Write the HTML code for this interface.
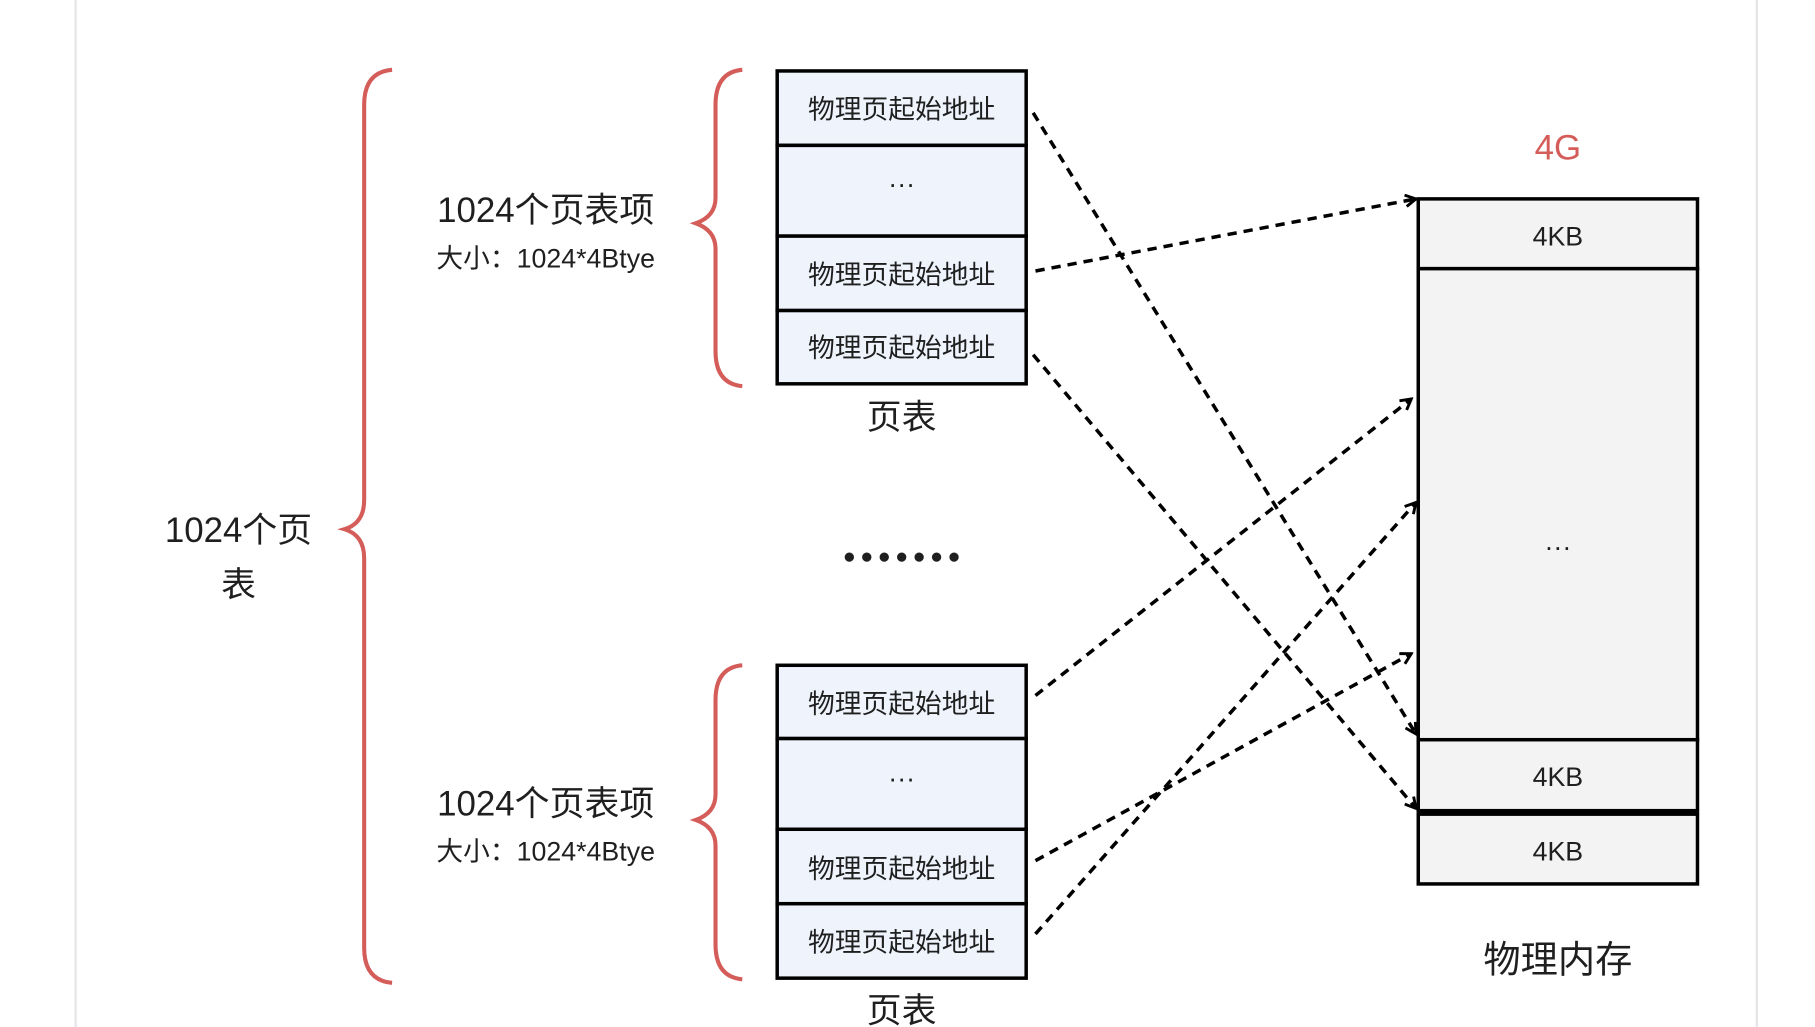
<!DOCTYPE html>
<html><head><meta charset="utf-8"><style>
html,body{margin:0;padding:0;background:#fff;width:1815px;height:1027px;overflow:hidden}
svg{display:block}
text{font-family:"Liberation Sans","Noto Sans CJK SC",sans-serif;fill:#1f1f1f}
</style></head><body>
<svg width="1815" height="1027" viewBox="0 0 1560 883" preserveAspectRatio="none" xmlns="http://www.w3.org/2000/svg">
<defs>
<marker id="a" markerWidth="12" markerHeight="12" refX="10" refY="6" orient="auto" markerUnits="userSpaceOnUse">
<path d="M1,1 L10,6 L1,11" fill="none" stroke="#000" stroke-width="2.5"/>
</marker>
</defs>
<rect x="65" y="-20" width="1445" height="930" rx="18" fill="#fff" stroke="#e6e6e9" stroke-width="2"/>
<g fill="none" stroke="#d45d5a" stroke-width="3.5">
<path d="M337,60 Q313,62 313,90 L313,430 Q313,450 296,455 Q313,460 313,480 L313,815 Q313,843 337,845"/>
<path d="M638,60 Q615,62 615,90 L615,170 Q615,186 598,192 Q615,198 615,214 L615,302 Q615,330 638,332"/>
<path d="M638,572 Q615,574 615,602 L615,683 Q615,699 598,705 Q615,711 615,727 L615,812 Q615,840 638,842"/>
</g>
<text x="205" y="466" font-size="30" text-anchor="middle">1024个页</text>
<text x="205" y="513" font-size="30" text-anchor="middle">表</text>
<text x="469" y="191" font-size="30" text-anchor="middle">1024个页表项</text>
<text x="469" y="230" font-size="23" text-anchor="middle">大小：1024*4Btye</text>
<text x="469" y="701" font-size="30" text-anchor="middle">1024个页表项</text>
<text x="469" y="740" font-size="23" text-anchor="middle">大小：1024*4Btye</text>
<g stroke="#000" stroke-width="3" fill="#eef3fc">
<rect x="668" y="61" width="214" height="64"/><rect x="668" y="125" width="214" height="78"/><rect x="668" y="203" width="214" height="64"/><rect x="668" y="267" width="214" height="63"/>
<rect x="668" y="572" width="214" height="63"/><rect x="668" y="635" width="214" height="78"/><rect x="668" y="713" width="214" height="64"/><rect x="668" y="777" width="214" height="64"/>
</g>
<g font-size="23" text-anchor="middle">
<text x="775" y="102">物理页起始地址</text><text x="775" y="166">···</text><text x="775" y="244">物理页起始地址</text><text x="775" y="307">物理页起始地址</text>
<text x="775" y="613">物理页起始地址</text><text x="775" y="677">···</text><text x="775" y="755">物理页起始地址</text><text x="775" y="818">物理页起始地址</text>
</g>
<text x="775" y="369" font-size="30" text-anchor="middle">页表</text>
<text x="775" y="879" font-size="30" text-anchor="middle">页表</text>
<g fill="#1f1f1f"><circle cx="730" cy="479" r="4"/><circle cx="745" cy="479" r="4"/><circle cx="760" cy="479" r="4"/><circle cx="775" cy="479" r="4"/><circle cx="790" cy="479" r="4"/><circle cx="805" cy="479" r="4"/><circle cx="820" cy="479" r="4"/></g>
<g stroke="#000" stroke-width="3" fill="#f3f3f3">
<rect x="1219" y="171" width="240" height="60"/><rect x="1219" y="231" width="240" height="405"/><rect x="1219" y="636" width="240" height="61"/><rect x="1219" y="700" width="240" height="60"/>
</g>
<line x1="1219" y1="698.5" x2="1459" y2="698.5" stroke="#000" stroke-width="3"/>
<g font-size="23" text-anchor="middle">
<text x="1339" y="211">4KB</text><text x="1339" y="478">···</text><text x="1339" y="676">4KB</text><text x="1339" y="740">4KB</text>
</g>
<text x="1339" y="137" font-size="30" text-anchor="middle" style="fill:#d45d5a">4G</text>
<text x="1339" y="836" font-size="32" text-anchor="middle">物理内存</text>
<g stroke="#000" stroke-width="3" stroke-dasharray="8,6" fill="none" marker-end="url(#a)">
<line x1="888" y1="97" x2="1217" y2="631"/>
<line x1="890" y1="233" x2="1217" y2="171"/>
<line x1="888" y1="305" x2="1217" y2="695"/>
<line x1="890" y1="598" x2="1213" y2="343"/>
<line x1="890" y1="740" x2="1213" y2="562"/>
<line x1="890" y1="803" x2="1217" y2="432"/>
</g>
</svg>
</body></html>
